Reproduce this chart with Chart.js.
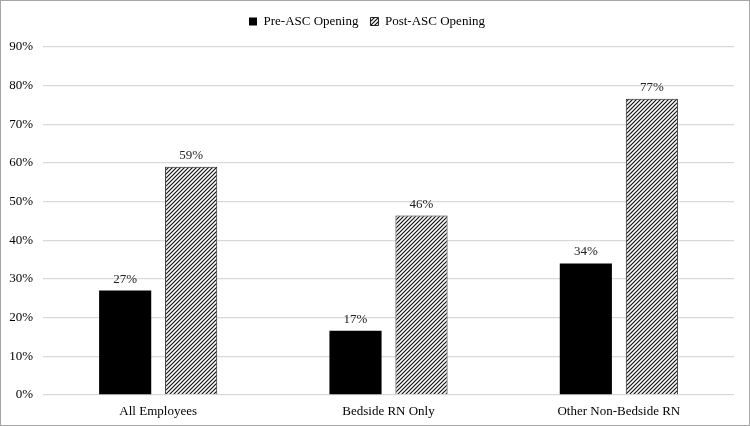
<!DOCTYPE html>
<html>
<head>
<meta charset="utf-8">
<script src="https://cdn.jsdelivr.net/npm/chart.js@4/dist/chart.umd.min.js"></script>
<style>
html,body{margin:0;padding:0;background:#fff;}
#wrap{width:750px;height:426px;position:relative;}
</style>
</head>
<body>
<div id="wrap"><canvas id="c" width="750" height="426"></canvas></div>
<script>
const categories = ["All Employees", "Bedside RN Only", "Other Non-Bedside RN"];
const seriesNames = ["Pre-ASC Opening", "Post-ASC Opening"];
const preValues = [27, 16.6, 34];
const postValues = [59, 46.4, 76.6];
const yTicks = [0, 10, 20, 30, 40, 50, 60, 70, 80, 90];

function makeHatch() {
  const t = document.createElement('canvas');
  t.width = 4; t.height = 4;
  const g = t.getContext('2d');
  g.fillStyle = '#ffffff';
  g.fillRect(0, 0, 4, 4);
  g.strokeStyle = '#111';
  g.lineWidth = 1.2;
  g.beginPath();
  g.moveTo(-1, 5); g.lineTo(5, -1);
  g.moveTo(-3, 3); g.lineTo(3, -3);
  g.moveTo(1, 7); g.lineTo(7, 1);
  g.stroke();
  return document.getElementById('c').getContext('2d').createPattern(t, 'repeat');
}
const hatch = makeHatch();

const frame = {
  id: 'frame',
  beforeLayout(chart) {
    const lg = chart.legend;
    if (lg && !lg._extraFit) {
      const orig = lg.fit.bind(lg);
      lg.fit = function () { orig(); this.height += 9; };
      lg._extraFit = true;
    }
  },
  beforeDraw(chart) {
    const ctx = chart.ctx;
    ctx.save();
    ctx.fillStyle = '#fff';
    ctx.fillRect(0, 0, chart.width, chart.height);
    ctx.restore();
  },
  afterDraw(chart) {
    const ctx = chart.ctx;
    ctx.save();
    ctx.strokeStyle = '#a6a6a6';
    ctx.lineWidth = 1;
    ctx.strokeRect(0.5, 0.5, chart.width - 1, chart.height - 1);
    ctx.restore();
  }
};

const valueLabels = {
  id: 'valueLabels',
  afterDatasetsDraw(chart) {
    const ctx = chart.ctx;
    ctx.save();
    ctx.font = '13px "Liberation Serif", "Times New Roman", serif';
    ctx.fillStyle = '#222';
    ctx.textAlign = 'center';
    ctx.textBaseline = 'bottom';
    chart.data.datasets.forEach((ds, i) => {
      chart.getDatasetMeta(i).data.forEach((bar, j) => {
        ctx.fillText(Math.round(ds.data[j]) + '%', bar.x, bar.y - 5);
      });
    });
    ctx.restore();
  }
};

new Chart(document.getElementById('c'), {
  type: 'bar',
  data: {
    labels: categories,
    datasets: [
      { label: seriesNames[0], data: preValues, backgroundColor: '#000', borderColor: '#000', borderWidth: 0,
        categoryPercentage: 0.573, barPercentage: 0.79 },
      { label: seriesNames[1], data: postValues, backgroundColor: hatch, borderColor: '#222', borderWidth: 1,
        categoryPercentage: 0.573, barPercentage: 0.79 }
    ]
  },
  options: {
    responsive: false,
    animation: false,
    devicePixelRatio: 1,
    layout: { padding: { left: 0, right: 16, top: 3, bottom: 0 } },
    plugins: {
      legend: {
        display: true,
        position: 'top',
        labels: {
          font: { family: '"Liberation Serif", "Times New Roman", serif', size: 13 },
          color: '#000',
          boxWidth: 8,
          boxHeight: 8,
          padding: 12
        }
      },
      tooltip: { enabled: false }
    },
    scales: {
      x: {
        grid: { display: false, drawTicks: false },
        border: { display: false },
        ticks: {
          font: { family: '"Liberation Serif", "Times New Roman", serif', size: 13 },
          color: '#000',
          padding: 9
        },
        afterFit(s) { s.height = 31; }
      },
      y: {
        min: 0, max: 90,
        afterBuildTicks(s) { s.ticks = yTicks.map(v => ({ value: v })); },
        grid: { color: '#d9d9d9', lineWidth: 1.3, drawTicks: false },
        border: { display: false },
        ticks: {
          font: { family: '"Liberation Serif", "Times New Roman", serif', size: 13 },
          color: '#000',
          padding: 10,
          callback: v => v + '%'
        },
        afterFit(s) { s.width = 43; }
      }
    }
  },
  plugins: [frame, valueLabels]
});
</script>
</body>
</html>
